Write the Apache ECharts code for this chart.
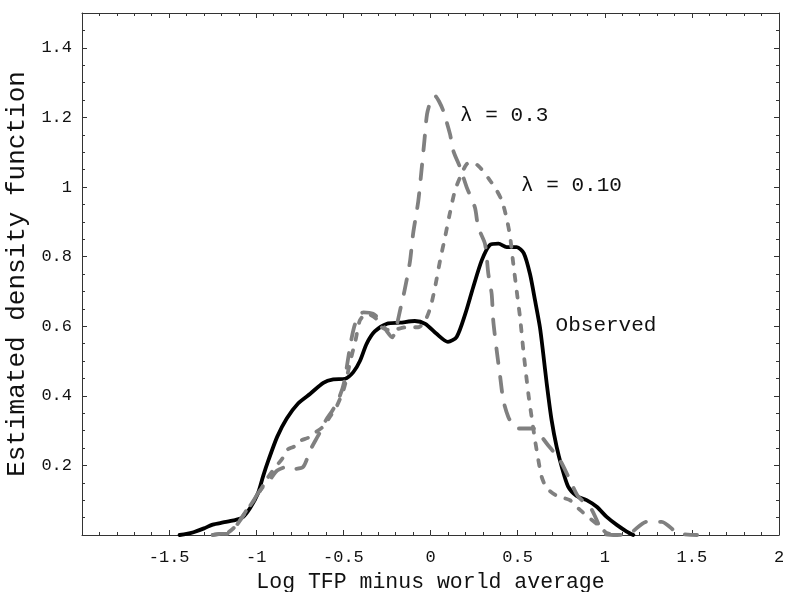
<!DOCTYPE html>
<html><head><meta charset="utf-8">
<script src="https://cdn.jsdelivr.net/npm/echarts@6/dist/echarts.min.js"></script>
<style>html,body{margin:0;padding:0;background:#fff}#c{width:787px;height:592px}</style>
</head><body><div id="c"></div>
<script>
// Observed density (solid black)
const observed = [[-1.44,0],[-1.40,0.003],[-1.36,0.008],[-1.30,0.019],[-1.25,0.03],[-1.19,0.036],[-1.13,0.042],[-1.08,0.05],[-1.036,0.077],[-0.99,0.12],[-0.96,0.17],[-0.93,0.215],[-0.88,0.282],[-0.825,0.335],[-0.76,0.378],[-0.69,0.406],[-0.615,0.437],[-0.558,0.447],[-0.49,0.449],[-0.443,0.468],[-0.405,0.50],[-0.366,0.55],[-0.32,0.585],[-0.25,0.607],[-0.175,0.61],[-0.09,0.615],[-0.03,0.607],[0.035,0.578],[0.10,0.555],[0.15,0.569],[0.20,0.636],[0.245,0.712],[0.294,0.789],[0.34,0.833],[0.39,0.837],[0.437,0.827],[0.495,0.827],[0.535,0.81],[0.571,0.75],[0.60,0.674],[0.628,0.597],[0.647,0.521],[0.667,0.435],[0.695,0.33],[0.724,0.253],[0.753,0.196],[0.79,0.139],[0.839,0.112],[0.896,0.10],[0.954,0.081],[1.011,0.052],[1.069,0.029],[1.126,0.01],[1.164,0]];
// lambda = 0.10 (short dashes)
const lambda010 = [[-1.25,0],[-1.21,0.003],[-1.17,0.005],[-1.13,0.02],[-1.09,0.045],[-1.055,0.07],[-1.02,0.095],[-0.98,0.125],[-0.94,0.16],[-0.89,0.195],[-0.85,0.22],[-0.825,0.244],[-0.78,0.255],[-0.75,0.27],[-0.70,0.28],[-0.66,0.295],[-0.615,0.312],[-0.577,0.34],[-0.54,0.368],[-0.5,0.416],[-0.48,0.454],[-0.46,0.50],[-0.43,0.56],[-0.405,0.617],[-0.366,0.636],[-0.31,0.621],[-0.28,0.597],[-0.23,0.588],[-0.137,0.597],[-0.07,0.597],[-0.03,0.617],[0,0.655],[0.026,0.712],[0.055,0.789],[0.083,0.855],[0.11,0.922],[0.14,0.989],[0.17,1.028],[0.208,1.066],[0.246,1.07],[0.284,1.056],[0.34,1.02],[0.38,0.99],[0.41,0.96],[0.437,0.91],[0.456,0.86],[0.475,0.78],[0.495,0.70],[0.515,0.62],[0.533,0.53],[0.55,0.455],[0.563,0.40],[0.58,0.34],[0.60,0.272],[0.619,0.215],[0.638,0.167],[0.667,0.135],[0.724,0.113],[0.80,0.10],[0.858,0.072],[0.915,0.048],[0.973,0.024],[1.01,0.006],[1.06,0]];
// lambda = 0.3 (long dashes)
const lambda03 = [[-1.25,0],[-1.21,0.003],[-1.17,0.003],[-1.14,0.014],[-1.11,0.03],[-1.08,0.052],[-1.055,0.072],[-1.02,0.095],[-0.99,0.12],[-0.96,0.139],[-0.92,0.16],[-0.88,0.185],[-0.83,0.195],[-0.78,0.19],[-0.73,0.196],[-0.69,0.244],[-0.64,0.29],[-0.60,0.33],[-0.56,0.36],[-0.52,0.40],[-0.495,0.44],[-0.475,0.50],[-0.455,0.56],[-0.43,0.61],[-0.385,0.64],[-0.33,0.636],[-0.29,0.617],[-0.25,0.585],[-0.22,0.568],[-0.2,0.59],[-0.175,0.645],[-0.15,0.70],[-0.118,0.785],[-0.10,0.865],[-0.07,0.96],[-0.05,1.056],[-0.035,1.133],[-0.02,1.209],[0.0,1.245],[0.026,1.262],[0.05,1.245],[0.073,1.219],[0.112,1.152],[0.131,1.104],[0.17,1.056],[0.208,0.999],[0.255,0.941],[0.274,0.884],[0.313,0.836],[0.332,0.75],[0.351,0.693],[0.36,0.617],[0.38,0.53],[0.40,0.454],[0.418,0.387],[0.446,0.34],[0.48,0.31],[0.504,0.306],[0.59,0.306],[0.61,0.30],[0.667,0.263],[0.743,0.215],[0.80,0.158],[0.848,0.11],[0.915,0.081],[0.954,0.043],[0.99,0.005],[1.07,0],[1.145,0.005],[1.24,0.038],[1.327,0.038],[1.42,0.005],[1.53,0]];

const xTickLabels = ['-1.5','-1','-0.5','0','0.5','1','1.5','2'];
const yTickLabels = ['0.2','0.4','0.6','0.8','1','1.2','1.4'];
const annotations = [
  {text:'\u03bb = 0.3', x:0.17, y:1.205},
  {text:'\u03bb = 0.10', x:0.52, y:1.004},
  {text:'Observed', x:0.718, y:0.602}
];

const FONT = '"Liberation Mono", "DejaVu Sans Mono", monospace';
const chart = echarts.init(document.getElementById('c'), null, {renderer:'canvas'});

function fmtX(v){ const s = String(Math.round(v*10)/10); return xTickLabels.indexOf(s) >= 0 ? s : ''; }
function fmtY(v){ const s = String(Math.round(v*10)/10); return yTickLabels.indexOf(s) >= 0 ? s : ''; }

const axisCommon = {
  type:'value',
  axisLine:{show:true, onZero:false, lineStyle:{color:'#333', width:1}},
  axisTick:{show:true, inside:true, length:5, lineStyle:{color:'#333'}},
  minorTick:{show:true, length:3, lineStyle:{color:'#333'}},
  splitLine:{show:false}
};

function annoPoint(a){
  return {
    coord:[a.x, a.y], symbol:'circle', symbolSize:0,
    label:{show:true, position:'right', distance:0, formatter:a.text,
      fontFamily:FONT, fontSize:21, color:'#111'}
  };
}

chart.setOption({
  animation:false,
  backgroundColor:'#fff',
  grid:{left:82, right:8, top:13, bottom:57, containLabel:false, outerBoundsMode:'none'},
  xAxis:[
    Object.assign({}, axisCommon, {
      position:'bottom', min:-2, max:2, interval:0.5,
      minorTick:Object.assign({}, axisCommon.minorTick, {splitNumber:5}),
      axisLabel:{show:true, formatter:fmtX, fontFamily:FONT, fontSize:17, color:'#111', margin:14},
      name:'Log TFP minus world average', nameLocation:'middle', nameGap:32,
      nameTextStyle:{fontFamily:FONT, fontSize:21.5, color:'#111'}
    }),
    Object.assign({}, axisCommon, {
      position:'top', min:-2, max:2, interval:0.5,
      minorTick:Object.assign({}, axisCommon.minorTick, {splitNumber:5}),
      axisLabel:{show:false}
    })
  ],
  yAxis:[
    Object.assign({}, axisCommon, {
      position:'left', min:0, max:1.5, interval:0.2,
      minorTick:Object.assign({}, axisCommon.minorTick, {splitNumber:4}),
      axisLabel:{show:true, formatter:fmtY, fontFamily:FONT, fontSize:17, color:'#111', margin:10},
      name:'Estimated density function', nameLocation:'middle', nameGap:44, nameRotate:90,
      nameTextStyle:{fontFamily:FONT, fontSize:26, color:'#111'}
    }),
    Object.assign({}, axisCommon, {
      position:'right', min:0, max:1.5, interval:0.2,
      minorTick:Object.assign({}, axisCommon.minorTick, {splitNumber:4}),
      axisLabel:{show:false}
    })
  ],
  series:[
    {
      name:'Observed', type:'line', data:observed, showSymbol:false, smooth:0.25,
      lineStyle:{color:'#000', width:3.8, cap:'round', join:'round'},
      markPoint:{silent:true, data:[annoPoint(annotations[2])]}
    },
    {
      name:'\u03bb = 0.10', type:'line', data:lambda010, showSymbol:false, smooth:0.25,
      lineStyle:{color:'#808080', width:3.8, type:[6,11], cap:'round', join:'round'},
      markPoint:{silent:true, data:[annoPoint(annotations[1])]}
    },
    {
      name:'\u03bb = 0.3', type:'line', data:lambda03, showSymbol:false, smooth:0.25,
      lineStyle:{color:'#808080', width:3.8, type:[15,14], cap:'round', join:'round'},
      markPoint:{silent:true, data:[annoPoint(annotations[0])]}
    }
  ]
});
</script>
</body></html>
